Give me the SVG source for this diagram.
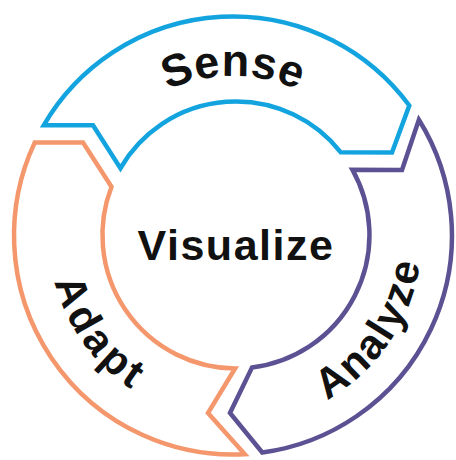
<svg xmlns="http://www.w3.org/2000/svg" width="456" height="460" viewBox="0 0 456 460">
  <style>
    .seg { fill: #ffffff; stroke-width: 4.5; stroke-linejoin: miter; stroke-miterlimit: 10; }
    .lbl { font-family: "Liberation Sans", Arial, sans-serif; font-weight: bold; fill: #111111; }
  </style>
  <defs>
    <path id="pSense" d="M 94.4 156 A 160 160 0 0 1 371.6 156"/>
    <path id="pAnalyze" d="M 219.8 424.5 A 189 189 0 0 0 402.9 153.1"/>
    <path id="pAdapt" d="M 64.9 161.2 A 184 184 0 0 0 252.2 419"/>
  </defs>
  <rect width="456" height="460" fill="#ffffff"/>
  <g id="sense">
    <path class="seg" stroke="#13A4DF" d="M 43.7 125.3 A 219 219 0 0 1 409.3 105.5 L 392 152.5 L 340.8 152.3 A 133.5 133.5 0 0 0 120.4 168.25 L 93 125.3 Z"/>
    <text class="lbl" font-size="45" letter-spacing="0.5"><textPath href="#pSense" startOffset="50%" text-anchor="middle">Sense</textPath></text>
  </g>
  <g id="analyze">
    <path class="seg" stroke="#5C5193" d="M 418.9 119.8 L 402 170 L 352.4 169.7 A 133.5 133.5 0 0 1 252 367.5 L 230 413 L 262.3 452.5 A 219 219 0 0 0 418.9 119.8 Z"/>
    <text class="lbl" font-size="42" letter-spacing="2"><textPath href="#pAnalyze" startOffset="50%" text-anchor="middle">Analyze</textPath></text>
  </g>
  <g id="adapt">
    <path class="seg" stroke="#F4976C" d="M 244.8 454.2 L 208 413 L 235.1 368.5 A 133.5 133.5 0 0 1 111.5 186.7 L 83 142.6 L 34.7 142.6 A 219 219 0 0 0 244.8 454.2 Z"/>
    <text class="lbl" font-size="42" letter-spacing="4"><textPath href="#pAdapt" startOffset="50%" text-anchor="middle">Adapt</textPath></text>
  </g>
  <g id="visualize">
    <text class="lbl" x="236" y="260" font-size="43" letter-spacing="1.5" text-anchor="middle">Visualize</text>
  </g>
  <g id="connectors"/>
</svg>
